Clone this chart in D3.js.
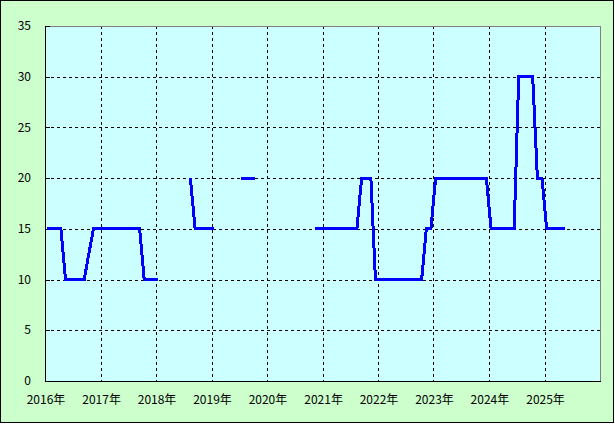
<!DOCTYPE html>
<html><head><meta charset="utf-8">
<script src="https://cdn.jsdelivr.net/npm/d3@7"></script>
<style>
html,body{margin:0;padding:0;background:#fff;}
svg text{font-family:"MS UI Gothic","Noto Sans CJK JP",sans-serif;font-size:12px;fill:#000;}
</style></head>
<body>
<svg id="c" width="615" height="424"></svg>
<script>
// ---- data (monthly values, null = no data) ----
const years = [2016, 2017, 2018, 2019, 2020, 2021, 2022, 2023, 2024, 2025];
const v2016 = [15, 15, 15, 15, 10, 10, 10, 10, 10, 12.5, 15, 15];
const v2017 = [15, 15, 15, 15, 15, 15, 15, 15, 15, 10, 10, 10];
const v2018 = [10, null, null, null, null, null, null, 20, 15, 15, 15, 15];
const v2019 = [15, null, null, null, null, null, 20, 20, 20, 20, null, null];
const v2020 = [null, null, null, null, null, null, null, null, null, null, 15, 15];
const v2021 = [15, 15, 15, 15, 15, 15, 15, 15, 20, 20, 20, 10];
const v2022 = [10, 10, 10, 10, 10, 10, 10, 10, 10, 10, 15, 15];
const v2023 = [20, 20, 20, 20, 20, 20, 20, 20, 20, 20, 20, 20];
const v2024 = [15, 15, 15, 15, 15, 15, 30, 30, 30, 30, 20, 20];
const v2025 = [15, 15, 15, 15, 15];
const yTicks = [0, 5, 10, 15, 20, 25, 30, 35];
const xLabels = ["2016年","2017年","2018年","2019年","2020年","2021年","2022年","2023年","2024年","2025年"];

const yearValues = [v2016, v2017, v2018, v2019, v2020, v2021, v2022, v2023, v2024, v2025];
const points = [];
years.forEach((y, i) => {
  yearValues[i].forEach((v, m) => points.push({date: new Date(y, m, 15), value: v}));
});

// ---- layout ----
const W = 615, H = 424;
const L = 45, R = 600, T = 26, B = 381;
const svg = d3.select("#c");

svg.append("rect").attr("x", 0.5).attr("y", 0.5).attr("width", W - 2).attr("height", H - 2)
  .attr("fill", "#CCFFCC").attr("stroke", "#000").attr("stroke-width", 1);

const x = d3.scaleTime().domain([new Date(2016, 0, 1), new Date(2026, 0, 1)]).range([L, R]);
const y = d3.scaleLinear().domain([0, 35]).range([B, T]);

svg.append("rect").attr("x", L).attr("y", T).attr("width", R - L).attr("height", B - T).attr("fill", "#CCFFFF");

// grid
const g = svg.append("g").attr("shape-rendering", "crispEdges");
g.selectAll("line.hg").data(yTicks.filter(d => d > 0 && d < 35)).join("line")
  .attr("x1", L).attr("x2", R).attr("y1", d => Math.round(y(d)) + 0.5).attr("y2", d => Math.round(y(d)) + 0.5)
  .attr("stroke", "#000").attr("stroke-dasharray", "3,3");
const gridYears = years.slice(1).map(yy => new Date(yy, 0, 1));
g.selectAll("line.vg").data(gridYears).join("line")
  .attr("y1", T).attr("y2", B).attr("x1", d => Math.round(x(d)) + 0.5).attr("x2", d => Math.round(x(d)) + 0.5)
  .attr("stroke", "#000").attr("stroke-dasharray", "3,3");

// plot border
g.append("line").attr("x1", L).attr("x2", R + 1).attr("y1", T + 0.5).attr("y2", T + 0.5).attr("stroke", "#808080");
g.append("line").attr("x1", R + 0.5).attr("x2", R + 0.5).attr("y1", T).attr("y2", B).attr("stroke", "#808080");
g.append("line").attr("x1", L + 0.5).attr("x2", L + 0.5).attr("y1", T).attr("y2", B + 1).attr("stroke", "#000");
g.append("line").attr("x1", L).attr("x2", R + 1).attr("y1", B + 0.5).attr("y2", B + 0.5).attr("stroke", "#000");
g.selectAll("line.yt").data(yTicks).join("line")
  .attr("x1", L).attr("x2", L + 5).attr("y1", d => Math.round(y(d)) + 0.5).attr("y2", d => Math.round(y(d)) + 0.5)
  .attr("stroke", "#000");

// y labels
svg.selectAll("text.yl").data(yTicks).join("text")
  .attr("x", 31).attr("y", d => y(d)).attr("dy", "0.35em").attr("text-anchor", "end").text(d => d);

// x labels
svg.selectAll("text.xl").data(xLabels).join("text")
  .attr("x", (d, i) => x(new Date(years[i], 0, 1)) + 1).attr("y", 404).attr("text-anchor", "middle").text(d => d);

// line
const line = d3.line().defined(d => d.value !== null).x(d => x(d.date)).y(d => y(d.value));
svg.append("path").datum(points).attr("d", line).attr("fill", "none")
  .attr("stroke", "#0000FF").attr("stroke-width", 3).attr("shape-rendering", "crispEdges");
</script>
</body></html>
